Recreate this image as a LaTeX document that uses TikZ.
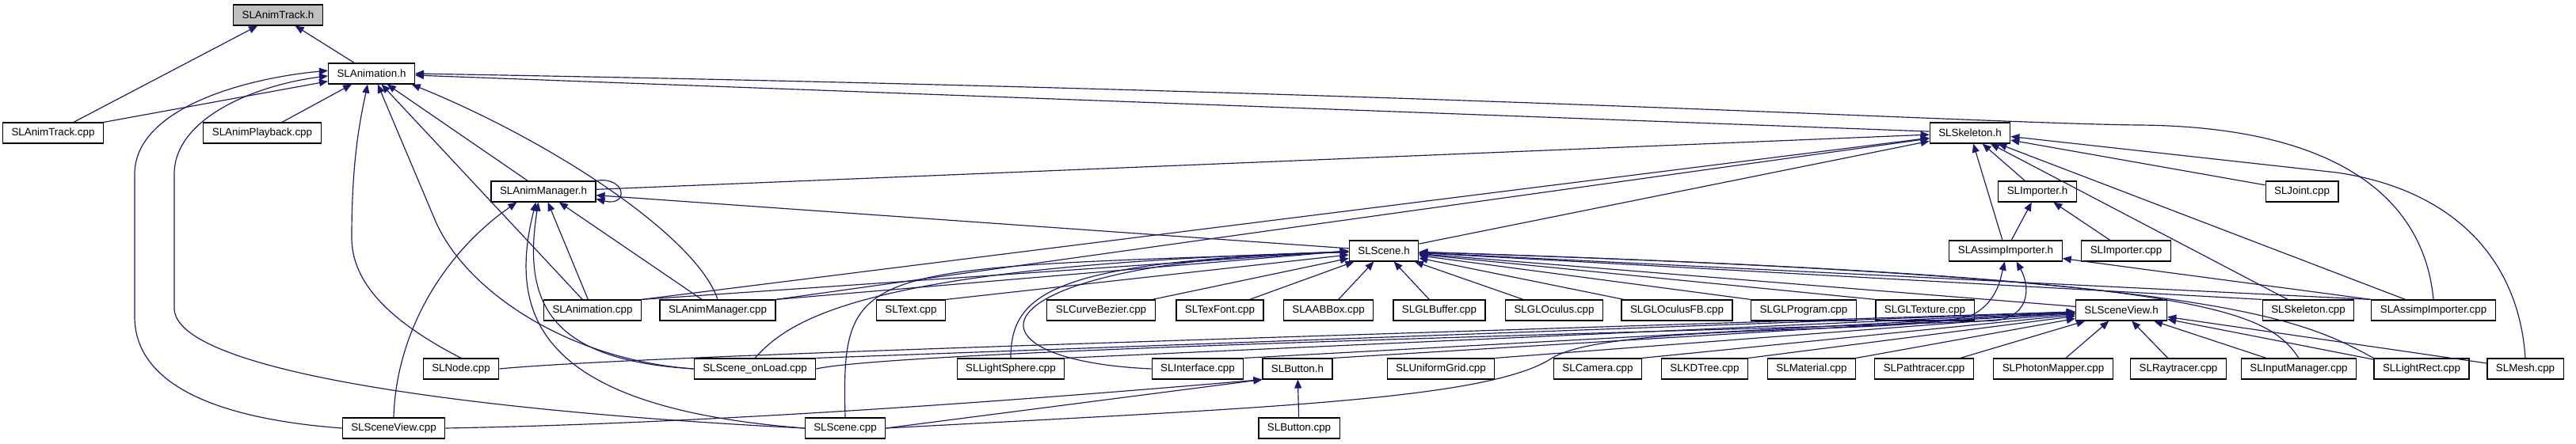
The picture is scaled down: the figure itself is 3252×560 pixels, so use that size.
\documentclass[tikz,border=0pt]{standalone}
\usepackage{fontspec}
\setmainfont{Liberation Sans}
\usetikzlibrary{arrows.meta}
\definecolor{dxnavy}{RGB}{25,25,112}
\definecolor{dxgray}{RGB}{191,191,191}
\tikzset{
  filebox/.style={draw=black,line width=1pt,fill=white,minimum height=0.78cm,
    inner xsep=0.33cm,inner ysep=0pt,font=\fontsize{11.4pt}{13pt}\selectfont},
  incl/.style={dxnavy,line width=1pt,-{Triangle[length=0.33cm,width=0.27cm]}}
}

\begin{document}
\begin{tikzpicture}[x=0.03cm,y=-0.03cm]
  \useasboundingbox (0,0) rectangle (3252,560);
  \fill[white] (0,0) rectangle (3252,560);

  \node[filebox,fill=dxgray] (animtrackh) at (351,19) {SLAnimTrack.h};
  \node[filebox] (animationh) at (469,93) {SLAnimation.h};
  \node[filebox] (animtrackcpp) at (67,168) {SLAnimTrack.cpp};
  \node[filebox] (animplaybackcpp) at (331,168) {SLAnimPlayback.cpp};
  \node[filebox] (skeletonh) at (2487,168) {SLSkeleton.h};
  \node[filebox] (animmgrh) at (686,242) {SLAnimManager.h};
  \node[filebox] (importerh) at (2572,242) {SLImporter.h};
  \node[filebox] (jointcpp) at (2906,242) {SLJoint.cpp};
  \node[filebox] (sceneh) at (1747,317) {SLScene.h};
  \node[filebox] (assimph) at (2532,317) {SLAssimpImporter.h};
  \node[filebox] (importercpp) at (2684,317) {SLImporter.cpp};

  \node[filebox] (animationcpp) at (748,392) {SLAnimation.cpp};
  \node[filebox] (animmgrcpp) at (906,392) {SLAnimManager.cpp};
  \node[filebox] (textcpp) at (1150,392) {SLText.cpp};
  \node[filebox] (curvebeziercpp) at (1390,392) {SLCurveBezier.cpp};
  \node[filebox] (texfontcpp) at (1540,392) {SLTexFont.cpp};
  \node[filebox] (aabboxcpp) at (1677,392) {SLAABBox.cpp};
  \node[filebox] (glbuffercpp) at (1817,392) {SLGLBuffer.cpp};
  \node[filebox] (gloculuscpp) at (1962,392) {SLGLOculus.cpp};
  \node[filebox] (gloculusfbcpp) at (2117,392) {SLGLOculusFB.cpp};
  \node[filebox] (glprogramcpp) at (2277,392) {SLGLProgram.cpp};
  \node[filebox] (gltexturecpp) at (2430,392) {SLGLTexture.cpp};
  \node[filebox] (sceneviewh) at (2678,392) {SLSceneView.h};
  \node[filebox] (skeletoncpp) at (2914,392) {SLSkeleton.cpp};
  \node[filebox] (assimpcpp) at (3072,392) {SLAssimpImporter.cpp};

  \node[filebox] (nodecpp) at (582,466) {SLNode.cpp};
  \node[filebox] (sceneonloadcpp) at (953,466) {SLScene\_onLoad.cpp};
  \node[filebox] (lightspherecpp) at (1276,466) {SLLightSphere.cpp};
  \node[filebox] (interfacecpp) at (1512,466) {SLInterface.cpp};
  \node[filebox] (buttonh) at (1638,466) {SLButton.h};
  \node[filebox] (uniformgridcpp) at (1819,466) {SLUniformGrid.cpp};
  \node[filebox] (cameracpp) at (2017,466) {SLCamera.cpp};
  \node[filebox] (kdtreecpp) at (2152,466) {SLKDTree.cpp};
  \node[filebox] (materialcpp) at (2287,466) {SLMaterial.cpp};
  \node[filebox] (pathtracercpp) at (2429,466) {SLPathtracer.cpp};
  \node[filebox] (photonmappercpp) at (2592,466) {SLPhotonMapper.cpp};
  \node[filebox] (raytracercpp) at (2750,466) {SLRaytracer.cpp};
  \node[filebox] (inputmgrcpp) at (2902,466) {SLInputManager.cpp};
  \node[filebox] (lightrectcpp) at (3057,466) {SLLightRect.cpp};
  \node[filebox] (meshcpp) at (3188,466) {SLMesh.cpp};

  \node[filebox] (sceneviewcpp) at (497,541) {SLSceneView.cpp};
  \node[filebox] (scenecpp) at (1067,541) {SLScene.cpp};
  \node[filebox] (buttoncpp) at (1640,541) {SLButton.cpp};

  \draw[incl] (animtrackcpp) -- (animtrackh);
  \draw[incl] (animationh) -- (animtrackh);

  \draw[incl] (animtrackcpp.north east) -- (animationh.190);
  \draw[incl] (animplaybackcpp) -- (animationh);
  \draw[incl] (animmgrh) -- (animationh);
  \draw[incl] (animationcpp) -- (animationh);
  \draw[incl] (skeletonh) -- (animationh);
  \draw[incl] (sceneviewcpp.west) .. controls (260,528) and (170,480) .. (170,400) -- (170,220) .. controls (170,140) and (300,100) .. (animationh.176);
  \draw[incl] (scenecpp.west) .. controls (600,520) and (222,470) .. (220,390) -- (220,220) .. controls (220,150) and (320,108) .. (animationh.183);
  \draw[incl] (nodecpp.north) .. controls (480,400) and (444,350) .. (444,300) .. controls (444,200) and (455,150) .. (animationh.-110);
  \draw[incl] (sceneonloadcpp.west) .. controls (720,455) and (590,370) .. (550,280) -- (animationh.-60);
  \draw[incl] (animmgrcpp.north) .. controls (880,300) and (700,180) .. (animationh.-15);
  \draw[incl] (assimpcpp.north) .. controls (3060,250) and (2950,160) .. (2700,158) .. controls (2500,156) and (1800,115) .. (animationh.east);

  \draw[incl] (animmgrh.north east) .. controls (790,222) and (795,262) .. (animmgrh.-8);
  \draw[incl] (sceneh) -- (animmgrh);
  \draw[incl] (animationcpp) -- (animmgrh);
  \draw[incl] (animmgrcpp) -- (animmgrh);
  \draw[incl] (sceneviewcpp.north) .. controls (500,420) and (560,320) .. (animmgrh.-158);
  \draw[incl] (scenecpp.west) .. controls (680,515) and (640,400) .. (animmgrh.-125);
  \draw[incl] (sceneonloadcpp.west) .. controls (690,455) and (660,380) .. (animmgrh.-115);

  \draw[incl] (animmgrh) -- (skeletonh);
  \draw[incl] (animationcpp.north east) -- (skeletonh);
  \draw[incl] (animmgrcpp.north east) -- (skeletonh);
  \draw[incl] (sceneh) -- (skeletonh);
  \draw[incl] (importerh) -- (skeletonh);
  \draw[incl] (assimph) -- (skeletonh);
  \draw[incl] (jointcpp) -- (skeletonh);
  \draw[incl] (skeletoncpp) -- (skeletonh);
  \draw[incl] (assimpcpp) -- (skeletonh);
  \draw[incl] (meshcpp.north) .. controls (3180,330) and (3100,240) .. (2950,218) -- (skeletonh.-5);

  \draw[incl] (assimph) -- (importerh);
  \draw[incl] (importercpp) -- (importerh);
  \draw[incl] (assimpcpp.north west) -- (assimph);
  \draw[incl] (scenecpp.east) .. controls (1600,515) and (1880,505) .. (1960,452) .. controls (2040,405) and (2450,425) .. (2495,395) .. controls (2522,378) and (2526,350) .. (assimph.-95);
  \draw[incl] (sceneonloadcpp.east) .. controls (1150,440) and (2300,415) .. (2520,405) .. controls (2565,398) and (2562,360) .. (assimph.-45);

  \draw[incl] (animationcpp.north east) -- (sceneh.west);
  \draw[incl] (animmgrcpp.north east) -- (sceneh.west);
  \draw[incl] (textcpp.north east) -- (sceneh);
  \draw[incl] (curvebeziercpp) -- (sceneh);
  \draw[incl] (texfontcpp) -- (sceneh);
  \draw[incl] (aabboxcpp) -- (sceneh);
  \draw[incl] (glbuffercpp) -- (sceneh);
  \draw[incl] (gloculuscpp) -- (sceneh);
  \draw[incl] (gloculusfbcpp) -- (sceneh);
  \draw[incl] (glprogramcpp.north west) -- (sceneh);
  \draw[incl] (gltexturecpp.north west) -- (sceneh);
  \draw[incl] (sceneviewh) -- (sceneh);
  \draw[incl] (skeletoncpp.north west) -- (sceneh);
  \draw[incl] (assimpcpp.north west) -- (sceneh);
  \draw[incl] (sceneonloadcpp.north) .. controls (1000,400) and (1100,335) .. (sceneh);
  \draw[incl] (scenecpp.north) .. controls (1062,330) and (1080,340) .. (sceneh);
  \draw[incl] (lightspherecpp.north) .. controls (1276,370) and (1330,330) .. (sceneh);
  \draw[incl] (interfacecpp.west) .. controls (1200,455) and (1220,330) .. (sceneh);
  \draw[incl] (inputmgrcpp.north) .. controls (2860,390) and (2780,350) .. (sceneh);
  \draw[incl] (lightrectcpp.north west) .. controls (2900,400) and (2800,350) .. (sceneh);

  \draw[incl] (nodecpp.east) .. controls (800,450) and (1500,430) .. (sceneviewh);
  \draw[incl] (sceneonloadcpp.north east) -- (sceneviewh);
  \draw[incl] (lightspherecpp.north east) -- (sceneviewh);
  \draw[incl] (interfacecpp.north east) -- (sceneviewh);
  \draw[incl] (buttonh.north east) -- (sceneviewh);
  \draw[incl] (uniformgridcpp.north east) -- (sceneviewh);
  \draw[incl] (cameracpp.north east) -- (sceneviewh);
  \draw[incl] (kdtreecpp.north east) -- (sceneviewh);
  \draw[incl] (materialcpp.north east) -- (sceneviewh);
  \draw[incl] (pathtracercpp) -- (sceneviewh);
  \draw[incl] (photonmappercpp) -- (sceneviewh);
  \draw[incl] (raytracercpp) -- (sceneviewh);
  \draw[incl] (inputmgrcpp) -- (sceneviewh);
  \draw[incl] (lightrectcpp) -- (sceneviewh);
  \draw[incl] (meshcpp) -- (sceneviewh);

  \draw[incl] (buttoncpp) -- (buttonh);
  \draw[incl] (scenecpp.east) -- (buttonh.south west);
  \draw[incl] (sceneviewcpp.east) .. controls (900,535) and (1300,505) .. (buttonh.south west);
\end{tikzpicture}
\end{document}
